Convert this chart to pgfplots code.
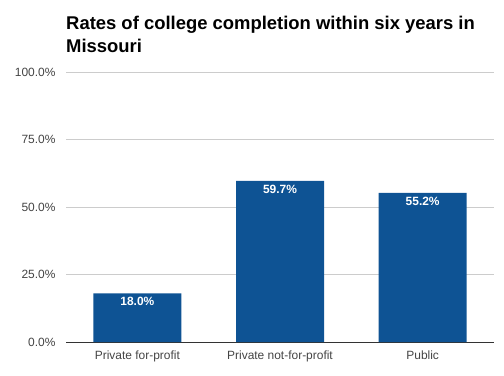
\documentclass[border=0pt]{standalone}
\usepackage{pgfplots}
\pgfplotsset{compat=1.18}
\usepackage{fontspec}
\setmainfont{Liberation Sans}
\definecolor{barblue}{RGB}{14,83,148}
\definecolor{gridgray}{RGB}{204,204,204}
\definecolor{txtgray}{RGB}{68,68,68}
\begin{document}
\begin{tikzpicture}[x=1bp,y=1bp]
\path[use as bounding box] (0,0) rectangle (504,375);
\begin{axis}[
  at={(66bp,33bp)}, anchor=south west,
  scale only axis, width=428bp, height=270bp,
  xmin=-0.5, xmax=2.5, ymin=0, ymax=100,
  axis x line=bottom, axis y line=left,
  x axis line style={draw=black!80,-, line width=1pt},
  y axis line style={draw=none},
  major tick length=0pt,
  xtick={0,1,2},
  xticklabels={Private for-profit, Private not-for-profit, Public},
  ytick={0,25,50,75,100},
  yticklabels={0.0\%,25.0\%,50.0\%,75.0\%,100.0\%},
  ymajorgrids, grid style={gridgray, line width=0.8pt},
  tick label style={font=\fontsize{12}{14}\selectfont, text=txtgray},
  xticklabel style={yshift=-5bp},
  yticklabel style={xshift=-7bp},
  /pgf/number format/assume math mode=true,
  clip=false,
]
\addplot[ybar, bar width=88bp, fill=barblue, draw=none,
  nodes near coords={\pgfmathprintnumber[fixed,fixed zerofill,precision=1]{\pgfplotspointmeta}\%},
  every node near coord/.append style={anchor=north, yshift=-4bp, inner sep=0pt, text=white, font=\fontsize{12}{14}\selectfont\bfseries}]
  coordinates {(0,18.0) (1,59.7) (2,55.2)};
\end{axis}
\node[anchor=north west, align=left, inner sep=0pt, font=\fontsize{18.5}{23}\selectfont\bfseries] at (66,359) {Rates of college completion within six years in\\Missouri};
\end{tikzpicture}
\end{document}
